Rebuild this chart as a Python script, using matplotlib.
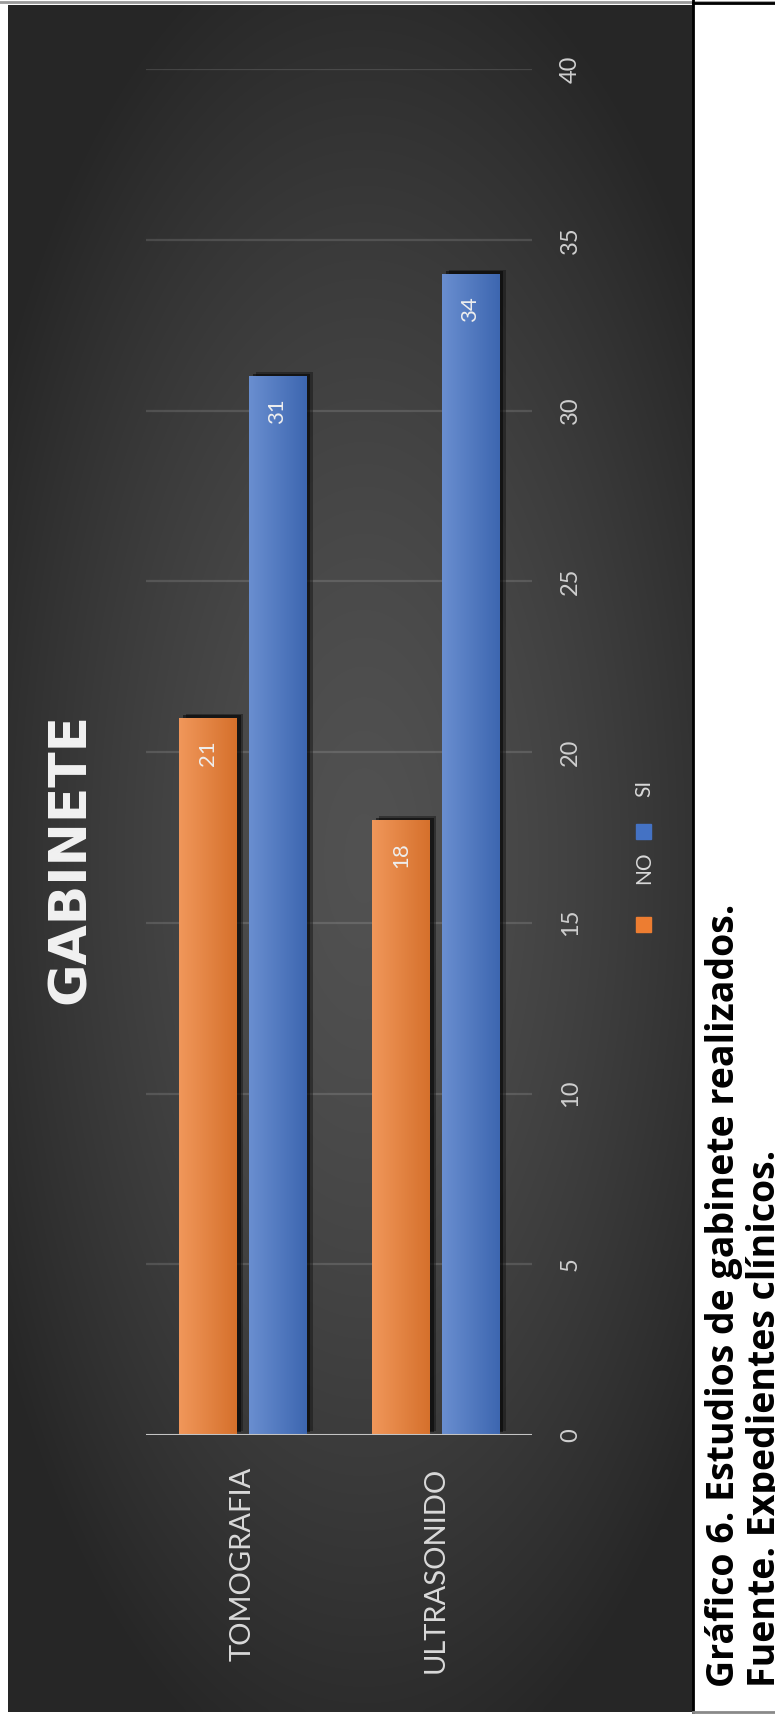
import numpy as np
import matplotlib
matplotlib.use("Agg")
import matplotlib.pyplot as plt
import matplotlib.patches as patches
import matplotlib.patheffects as pe
import matplotlib.colors as mcolors

# ======================
# Datos
# ======================
categorias = ["TOMOGRAFIA", "ULTRASONIDO"]
series = ["NO", "SI"]
valores_no = [21, 18]
valores_si = [31, 34]
ticks_valor = [0, 5, 10, 15, 20, 25, 30, 35, 40]
titulo = "GABINETE"
pie_1 = "Gráfico 6. Estudios de gabinete realizados."
pie_2 = "Fuente. Expedientes clínicos."

colores = {"NO": "#ED7D31", "SI": "#4472C4"}

# ======================
# Figura (pixeles 775 x 1714)
# ======================
W, H = 775, 1714
fig = plt.figure(figsize=(W / 100, H / 100), dpi=100)
fig.patch.set_facecolor("white")

bg = fig.add_axes([0, 0, 1, 1])
bg.set_xlim(0, W)
bg.set_ylim(H, 0)
bg.axis("off")

# panel oscuro con degradado radial
px0, px1, py0, py1 = 8, 693, 5, 1712
yy, xx = np.mgrid[0:1:400j, 0:1:160j]
r = np.sqrt(((xx - 0.52) / 0.62) ** 2 + ((yy - 0.5) / 0.56) ** 2)
g = 0.32 - 0.17 * np.clip(r, 0, 1) ** 1.4
bg.imshow(np.dstack([g, g, g]), extent=(px0, px1, py1, py0), aspect="auto",
          interpolation="bicubic", zorder=0)
bg.plot([0, W], [2, 2], color="#9a9a9a", lw=2, zorder=1)
bg.plot([px1, W], [3, 3], color="black", lw=2, zorder=1)
bg.plot([px1, px1], [0, H], color="black", lw=2, zorder=1)
bg.plot([px1, W], [H - 2, H - 2], color="#8a8a8a", lw=2, zorder=1)

# ======================
# Ejes del grafico
# ======================
ax = fig.add_axes([146 / W, 1 - 1435 / H, (532 - 146) / W, (1435 - 69) / H])
ax.set_facecolor("none")

x = np.arange(len(categorias))
ancho = 0.297
desp = 0.18

for vals, s, off in [(valores_no, "NO", -desp), (valores_si, "SI", desp)]:
    barras = ax.bar(x + off, vals, ancho, color=colores[s], zorder=3)
    c = np.array(mcolors.to_rgb(colores[s]))
    claro = c + (1 - c) * 0.2
    oscuro = c * 0.9
    t = np.linspace(0, 1, 64)[:, None]
    grad = (claro[None, :] * (1 - t) + oscuro[None, :] * t)[None, :, :]
    for b, v in zip(barras, vals):
        b.set_path_effects([pe.SimplePatchShadow(offset=(5, 3), shadow_rgbFace="#101010", alpha=0.45),
                            pe.SimplePatchShadow(offset=(3, 2), shadow_rgbFace="black", alpha=0.5),
                            pe.Normal()])
        im = ax.imshow(grad, extent=(b.get_x(), b.get_x() + b.get_width(), 0, v),
                       aspect="auto", zorder=3.5)
        im.set_clip_path(b)
        ax.annotate(str(v), xy=(b.get_x() + b.get_width() / 2, v), xytext=(0, -16),
                    textcoords="offset points", rotation=90, ha="center", va="top",
                    color="#eeeeee", fontsize=16, family="Lato", zorder=5)

ax.set_xlim(-0.5, 1.5)
ax.set_ylim(0, 40)
for sp in ax.spines.values():
    sp.set_visible(False)

ax.yaxis.tick_right()
ax.set_yticks(ticks_valor)
ax.set_yticklabels([str(v) for v in ticks_valor], family="Lato")
ax.tick_params(axis="y", length=0, pad=20, labelsize=17, labelcolor="#cfcfcf", labelrotation=90)
for lab in ax.get_yticklabels():
    lab.set_va("center")
    lab.set_ha("left")

ax.set_xticks(x)
ax.set_xticklabels(categorias, family="Lato")
ax.tick_params(axis="x", length=0, pad=23, labelsize=21, labelcolor="#d9d9d9", labelrotation=90)
for lab in ax.get_xticklabels():
    lab.set_va("top")
    lab.set_ha("center")

ax.grid(False)
ax.yaxis.grid(True, color="white", alpha=0.13, lw=1.6)
ax.set_axisbelow(True)
ax.axhline(0, color="#c4c4c4", lw=2.2, zorder=4)

# ======================
# Titulo, leyenda, pie
# ======================
def ajustar(texto, largo):
    rend = fig.canvas.get_renderer()
    h = texto.get_window_extent(rend).height
    texto.set_fontsize(texto.get_fontsize() * largo / h)

tt = fig.text(71 / W, 1 - 859 / H, titulo, rotation=90, ha="center", va="center",
              fontsize=34, weight="bold", color="#f2f2f2", family="DejaVu Sans")

# leyenda
bg.add_patch(patches.Rectangle((636, 917), 15, 15, color=colores["NO"], zorder=5))
bg.text(644, 868, series[0], rotation=90, ha="center", va="center", fontsize=15,
        color="#d9d9d9", family="Lato", zorder=5)
bg.add_patch(patches.Rectangle((636, 824), 15, 15, color=colores["SI"], zorder=5))
bg.text(644, 788, series[1], rotation=90, ha="center", va="center", fontsize=15,
        color="#d9d9d9", family="Lato", zorder=5)

p1 = fig.text(705 / W, 1 - 1687 / H, pie_1, rotation=90, ha="left", va="bottom",
              fontsize=24, weight="bold", color="black", family="Open Sans")
p2 = fig.text(746 / W, 1 - 1687 / H, pie_2, rotation=90, ha="left", va="bottom",
              fontsize=24, weight="bold", color="black", family="Open Sans")

fig.canvas.draw()
ajustar(tt, 292)
ajustar(p1, 785)
p2.set_fontsize(p1.get_fontsize())

fig.savefig("out.png", dpi=100, facecolor="white")
